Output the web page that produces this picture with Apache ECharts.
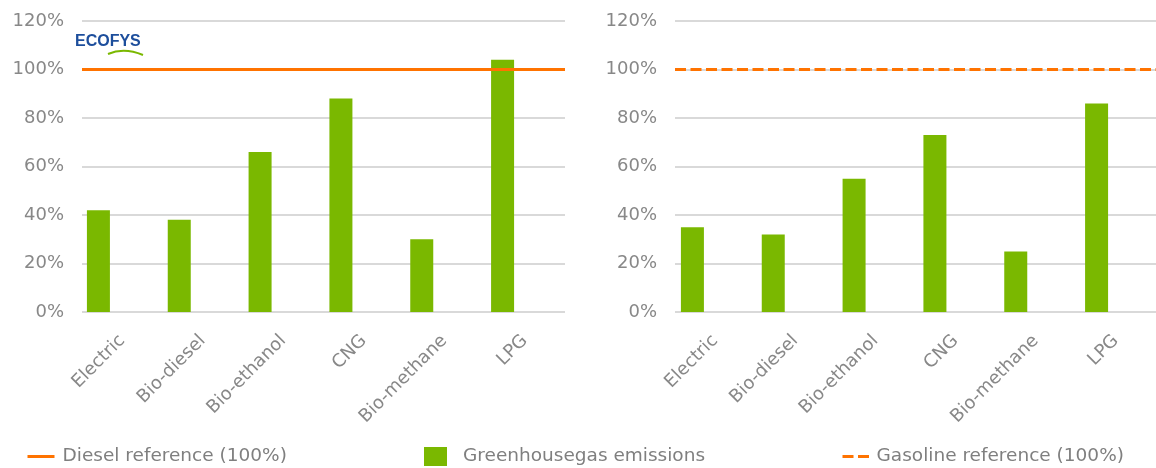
<!DOCTYPE html>
<html>
<head>
<meta charset="utf-8">
<title>Greenhouse gas emissions vs. reference fuels</title>
<script src="https://cdn.jsdelivr.net/npm/echarts@6/dist/echarts.min.js"></script>
<style>
  html, body { margin: 0; padding: 0; background: #ffffff; }
  #chart { width: 1156px; height: 468px; }
</style>
</head>
<body>
<div id="chart"></div>
<script>
// Fuel categories shown under both panels
const categories = ['Electric', 'Bio-diesel', 'Bio-ethanol', 'CNG', 'Bio-methane', 'LPG'];

// Greenhouse gas emissions relative to the reference fuel (%)
const dieselPanelEmissions = [42, 38, 66, 88, 30, 104];
const gasolinePanelEmissions = [35, 32, 55, 73, 25, 86];

// Reference levels (%)
const dieselReference = [100];
const gasolineReference = [100];

// Value axis range
const yMin = 0;
const yMax = 120;
const yStep = 20;

const GREEN = '#7ab800';
const ORANGE = '#ff7300';
const GRID_GRAY = '#d9d9d9';
const TEXT_GRAY = '#888888';
const FONT = 'DejaVu Sans';
const DASH = [11, 4.5];

const chart = echarts.init(document.getElementById('chart'), null, { renderer: 'canvas' });

// Label grids carry the value scale, gridlines and category names;
// bar grids hold the columns, slightly offset to the left.
const grids = [
  { left: 82, width: 483, top: 21, bottom: 156 },   // left panel, axes
  { left: 58, width: 485, top: 21, bottom: 156 },   // left panel, bars
  { left: 675, width: 481, top: 21, bottom: 156 },  // right panel, axes
  { left: 652, width: 485, top: 21, bottom: 156 }   // right panel, bars
];

function labelXAxis(gridIndex) {
  return {
    type: 'category', gridIndex, data: categories,
    axisLine: { show: false }, axisTick: { show: false },
    axisLabel: { rotate: 45, margin: 26, color: TEXT_GRAY, fontFamily: FONT, fontSize: 18, interval: 0 }
  };
}
function barXAxis(gridIndex) {
  return { type: 'category', gridIndex, data: categories, show: false };
}
function labelYAxis(gridIndex) {
  return {
    type: 'value', gridIndex, min: yMin, max: yMax, interval: yStep,
    axisLine: { show: false }, axisTick: { show: false },
    axisLabel: { formatter: '{value}%', margin: 18, color: TEXT_GRAY, fontFamily: FONT, fontSize: 18 },
    splitLine: { lineStyle: { color: GRID_GRAY, width: 2 } }
  };
}
function barYAxis(gridIndex) {
  return { type: 'value', gridIndex, min: yMin, max: yMax, interval: yStep, show: false, splitLine: { show: false } };
}

function referenceSeries(name, xi, values, dashed) {
  const lineType = dashed ? DASH : 'solid';
  return {
    name, type: 'line', xAxisIndex: xi, yAxisIndex: xi, data: [],
    symbol: 'none', z: 5,
    lineStyle: { color: ORANGE, width: 3, type: lineType },
    itemStyle: { color: ORANGE },
    markLine: {
      silent: true, symbol: ['none', 'none'], animation: false,
      label: { show: false },
      lineStyle: { color: ORANGE, width: 3, type: lineType },
      data: values.map(v => ({ yAxis: v }))
    }
  };
}

function legendText(gap) {
  return { color: '#7f7f7f', fontFamily: FONT, fontSize: 18.5, padding: [0, 0, 0, gap] };
}

chart.setOption({
  animation: false,
  grid: grids,
  xAxis: [labelXAxis(0), barXAxis(1), labelXAxis(2), barXAxis(3)],
  yAxis: [labelYAxis(0), barYAxis(1), labelYAxis(2), barYAxis(3)],
  legend: [
    { left: 26, top: 447, padding: 0, itemWidth: 27, itemHeight: 20, textStyle: legendText(3),
      itemStyle: { opacity: 0 }, lineStyle: { color: ORANGE, width: 3, type: 'solid' },
      data: ['Diesel reference (100%)'] },
    { left: 424, top: 447, padding: 0, itemWidth: 23, itemHeight: 19, textStyle: legendText(11),
      data: [{ name: 'Greenhousegas emissions', icon: 'rect' }] },
    { left: 841, top: 447, padding: 0, itemWidth: 27, itemHeight: 20, textStyle: legendText(2),
      itemStyle: { opacity: 0 }, lineStyle: { color: ORANGE, width: 3, type: DASH },
      data: ['Gasoline reference (100%)'] }
  ],
  series: [
    {
      name: 'Greenhousegas emissions', type: 'bar', xAxisIndex: 1, yAxisIndex: 1,
      data: dieselPanelEmissions, barWidth: 23, itemStyle: { color: GREEN }
    },
    {
      name: 'Greenhousegas emissions', type: 'bar', xAxisIndex: 3, yAxisIndex: 3,
      data: gasolinePanelEmissions, barWidth: 23, itemStyle: { color: GREEN }
    },
    referenceSeries('Diesel reference (100%)', 0, dieselReference, false),
    referenceSeries('Gasoline reference (100%)', 2, gasolineReference, true)
  ],
  graphic: [
    {
      type: 'text', left: 75, top: 34,
      style: { text: 'ECOFYS', fill: '#1d4e9c', font: 'bold 16px "Liberation Sans"' }
    },
    {
      type: 'bezierCurve',
      shape: { x1: 108, y1: 54, cpx1: 124, cpy1: 47, x2: 143, y2: 55 },
      style: { stroke: GREEN, lineWidth: 2, fill: null }
    }
  ]
});
</script>
</body>
</html>
